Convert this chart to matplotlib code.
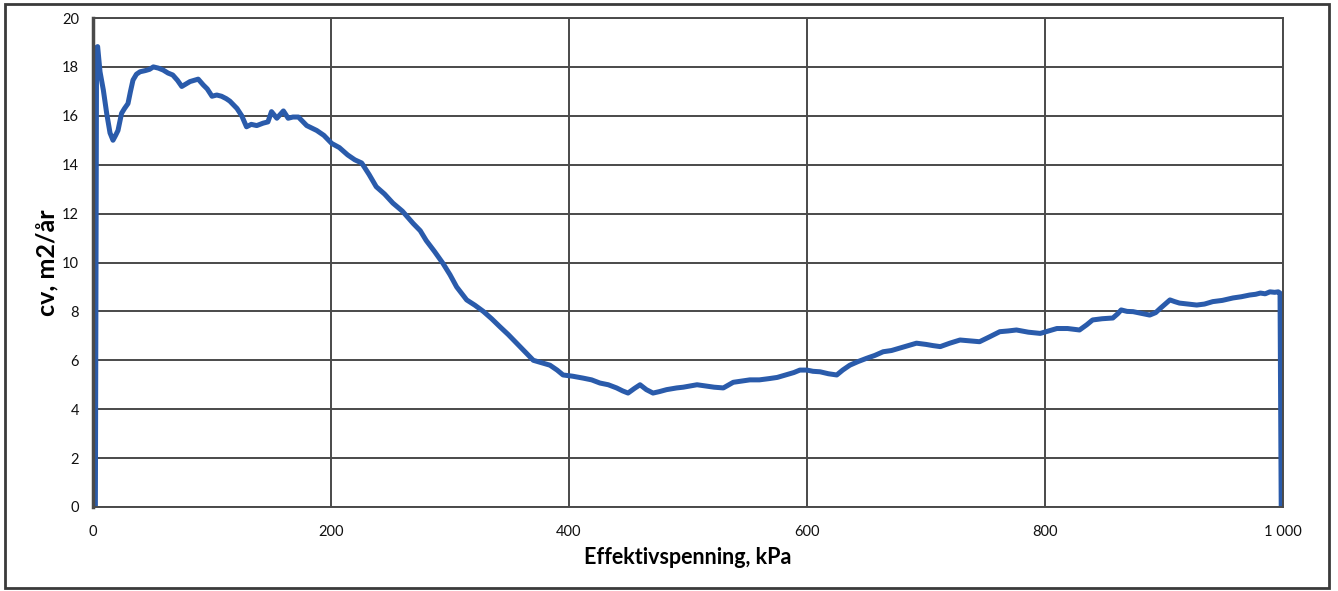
import numpy as np
import matplotlib.pyplot as plt
from matplotlib.patches import Rectangle

plt.rcParams['font.family'] = ['Lato', 'DejaVu Sans']

# effective stress (kPa) and cv (m2/year)
stress = [2, 3, 3.9, 5.9, 8.7, 11.5, 14.3, 16.8, 19, 21, 24, 26.5, 29.4, 31.5, 33.6,
          36.5, 39.5, 44, 47.5, 50.7, 55, 59, 63, 67, 71, 74.6, 78, 81.5, 85, 88.4,
          92.7, 96, 100, 104, 108, 112, 115, 121, 125, 129, 133, 137.6, 143, 147,
          150, 154.5, 160, 164, 168, 172.6, 179.6, 188, 194, 200.6, 207, 214, 220,
          225.8, 232, 238, 245, 252, 260, 269, 275, 280, 287, 294, 300, 305.6, 314,
          321, 328, 335, 342, 349, 356, 363, 370, 377, 384, 390, 395, 403, 412,
          419, 426, 433, 440, 445, 449.6, 455, 459.7, 465, 470.6, 476, 482, 490.5,
          496, 502, 507.6, 515, 522, 529.7, 538, 545, 552, 560, 568, 575, 582, 589,
          594, 600, 605, 611, 618, 625, 630, 636, 643, 650, 657, 664, 671, 678, 685,
          692, 700, 706, 712, 720, 728.6, 736, 745, 753, 762, 769, 776, 786, 796,
          803, 810, 819, 829, 835, 840, 848, 857, 861, 864, 869, 874, 881, 888, 893,
          897, 901, 905, 909, 913, 920, 927.5, 934, 941, 949, 958, 965, 972, 977,
          981, 985, 989, 993, 996, 997.5, 998.5]
cv = [0, 18.8, 18.83, 17.8, 17.05, 16.1, 15.3, 15.0, 15.2, 15.4, 16.1, 16.3, 16.5, 17.0, 17.46,
      17.7, 17.8, 17.85, 17.9, 18.0, 17.95, 17.87, 17.75, 17.67, 17.45, 17.2, 17.3, 17.4, 17.45, 17.5,
      17.26, 17.1, 16.8, 16.85, 16.8, 16.7, 16.6, 16.3, 16.0, 15.55, 15.65, 15.6, 15.7, 15.75,
      16.17, 15.9, 16.2, 15.9, 15.95, 15.95, 15.6, 15.4, 15.2, 14.87, 14.7, 14.4, 14.2,
      14.07, 13.6, 13.1, 12.8, 12.43, 12.1, 11.6, 11.3, 10.9, 10.45, 9.97, 9.5, 9.0, 8.47,
      8.25, 8.0, 7.7, 7.37, 7.05, 6.7, 6.35, 6.0, 5.9, 5.8, 5.6, 5.4, 5.35, 5.27,
      5.2, 5.07, 5.0, 4.87, 4.75, 4.66, 4.85, 5.0, 4.8, 4.66, 4.72, 4.8, 4.87,
      4.9, 4.95, 5.0, 4.95, 4.9, 4.87, 5.1, 5.15, 5.2, 5.2, 5.25, 5.3, 5.4, 5.5,
      5.6, 5.6, 5.55, 5.53, 5.45, 5.4, 5.6, 5.8, 5.95, 6.08, 6.2, 6.35, 6.4, 6.5, 6.6,
      6.7, 6.65, 6.6, 6.56, 6.7, 6.83, 6.8, 6.76, 6.95, 7.17, 7.2, 7.24, 7.15, 7.1,
      7.2, 7.3, 7.3, 7.24, 7.45, 7.65, 7.7, 7.73, 7.9, 8.06, 8.0, 7.99, 7.92, 7.85, 7.95,
      8.13, 8.3, 8.47, 8.4, 8.34, 8.3, 8.26, 8.3, 8.4, 8.45, 8.55, 8.6, 8.67, 8.7,
      8.75, 8.72, 8.8, 8.78, 8.8, 8.75, 0]

x_ticks = [0, 200, 400, 600, 800, 1000]
x_ticklabels = ['0', '200', '400', '600', '800', '1 000']
y_ticks = [0, 2, 4, 6, 8, 10, 12, 14, 16, 18, 20]

fig = plt.figure(figsize=(13.38, 5.91), dpi=100)
ax = fig.add_axes([93 / 1338, 84 / 591, 1190 / 1338, 489 / 591])

ax.plot(stress, cv, color='#2a5bab', lw=3.6, solid_joinstyle='round')

ax.set_xlim(0, 1000)
ax.set_ylim(0, 20)
ax.set_xticks(x_ticks)
ax.set_xticklabels(x_ticklabels)
ax.set_yticks(y_ticks)
ax.grid(True, color='#4a4a4a', lw=1.4)
ax.set_axisbelow(True)
ax.tick_params(length=0, labelsize=10.5, colors='#111111')
ax.tick_params(axis='x', pad=13)
ax.tick_params(axis='y', pad=10)
for side, sp in ax.spines.items():
    sp.set_color('#4a4a4a')
    sp.set_linewidth(1.4)
ax.spines['left'].set_linewidth(2.5)

ax.set_xlabel('Effektivspenning, kPa', fontsize=15.5, fontweight='bold', labelpad=6)
ax.set_ylabel('cv, m2/år', fontsize=18, fontweight='bold', labelpad=3)

# outer chart frame
fig.patches.append(Rectangle((5 / 1338, 3 / 591), 1324 / 1338, 584 / 591,
                             transform=fig.transFigure, fill=False,
                             edgecolor='#3a3a3a', lw=2))

fig.savefig('out.png', dpi=100)
